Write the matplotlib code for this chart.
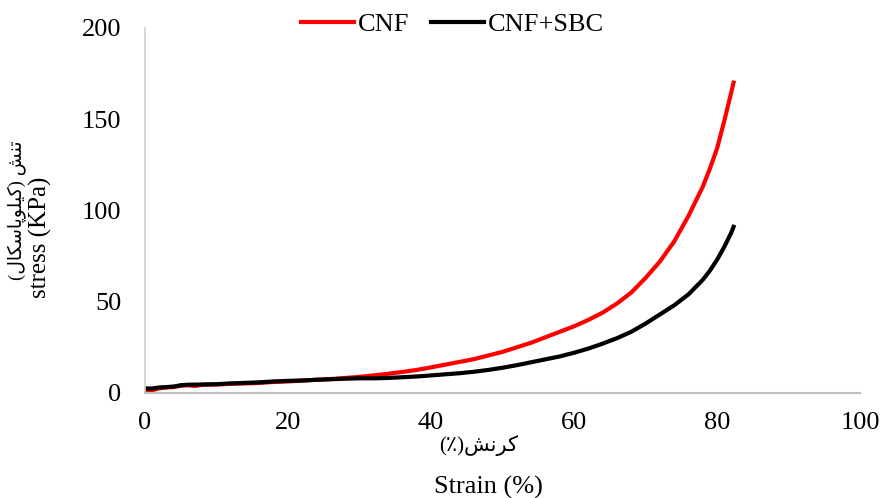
import numpy as np
import matplotlib.pyplot as plt

# strain (%) / stress (KPa)
strain_cnf = [0, 1, 2, 3, 4, 5, 6, 7, 8, 10, 12, 14, 16, 18, 20, 22, 24, 26, 28,
              30, 32, 34, 36, 38, 40, 42, 44, 46, 48, 50, 52, 54, 56, 58, 60, 62,
              64, 66, 68, 70, 72, 74, 75, 76, 77, 78, 79, 80, 81, 82, 82.3]
stress_cnf = [0.5, 1.5, 2.5, 3, 3.2, 4, 4.2, 3.8, 4.5, 4.6, 5, 5.2, 5.5, 6, 6.3,
              6.8, 7.2, 7.6, 8.2, 8.8, 9.6, 10.5, 11.5, 12.6, 14, 15.5, 17, 18.5,
              20.5, 22.5, 25, 27.5, 30.5, 33.5, 36.5, 40, 44, 49, 55, 63, 72, 83,
              90, 97, 105, 113, 123, 134, 149, 165, 170]

strain_sbc = [0, 1, 2, 3, 4, 5, 6, 8, 10, 12, 14, 16, 18, 20, 22, 24, 26, 28, 30,
              32, 34, 36, 38, 40, 42, 44, 46, 48, 50, 52, 54, 56, 58, 60, 62, 64,
              66, 68, 70, 72, 74, 76, 78, 79, 80, 81, 82, 82.3]
stress_sbc = [2.5, 2.4, 3, 3.2, 3.5, 4.2, 4.5, 4.6, 4.8, 5.2, 5.5, 5.8, 6.3, 6.6,
              6.8, 7.2, 7.5, 7.8, 8, 8, 8.2, 8.6, 9, 9.6, 10.2, 10.8, 11.6, 12.6,
              13.8, 15.2, 16.8, 18.4, 20, 22, 24.3, 27, 30, 33.5, 38, 43, 48, 54,
              62, 67, 73, 80, 88, 91]

xticks = [0, 20, 40, 60, 80, 100]
yticks = [0, 50, 100, 150, 200]

# Persian labels written in visual order with presentation forms
# (matplotlib does no Arabic shaping)
y_fa = "(\uFEDD\uFE8E\uFB91\uFEB3\uFE8E\uFB58\uFEEE\uFEE0\uFBFF\uFB90) \uFEB6\uFEE8\uFE97"
x_fa = "(\u066A)\uFEB6\uFEE7\uFEAE\uFB90"

fam = ['Liberation Serif', 'DejaVu Sans']
plt.rcParams['font.family'] = fam

fig = plt.figure(figsize=(8.84, 4.98), dpi=100)
ax = fig.add_axes([0.164, 0.211, 0.809, 0.733])

ax.plot(strain_cnf, stress_cnf, color='#ff0000', lw=3, label='CNF')
ax.plot(strain_sbc, stress_sbc, color='black', lw=3, label='CNF+SBC')

ax.set_xlim(0, 100)
ax.set_ylim(0, 200)
ax.set_xticks(xticks)
ax.set_yticks(yticks)
ax.tick_params(length=0, labelsize=19, pad=14)
ax.tick_params(axis='y', pad=17)
for s in ['top', 'right']:
    ax.spines[s].set_visible(False)
ax.spines['left'].set_color('#d0d0d0')
ax.spines['bottom'].set_color('#bfbfbf')
ax.spines['left'].set_linewidth(1.2)
ax.spines['bottom'].set_linewidth(1.5)

fig.text(0.046, 0.524, 'stress (KPa)', rotation=90, ha='center', va='center', fontsize=18)
fig.text(0.020, 0.578, y_fa, rotation=90, ha='center', va='center', fontsize=13.5)
fig.text(0.541, 0.106, x_fa, ha='center', va='center', fontsize=15)
fig.text(0.552, 0.022, 'Strain (%)', ha='center', va='center', fontsize=19)

ax.legend(loc='center', bbox_to_anchor=(0.43, 1.01), ncol=2, frameon=False,
          fontsize=19, handlelength=2.0, columnspacing=0.8, handletextpad=0.15)

fig.savefig('out.png', dpi=100)
